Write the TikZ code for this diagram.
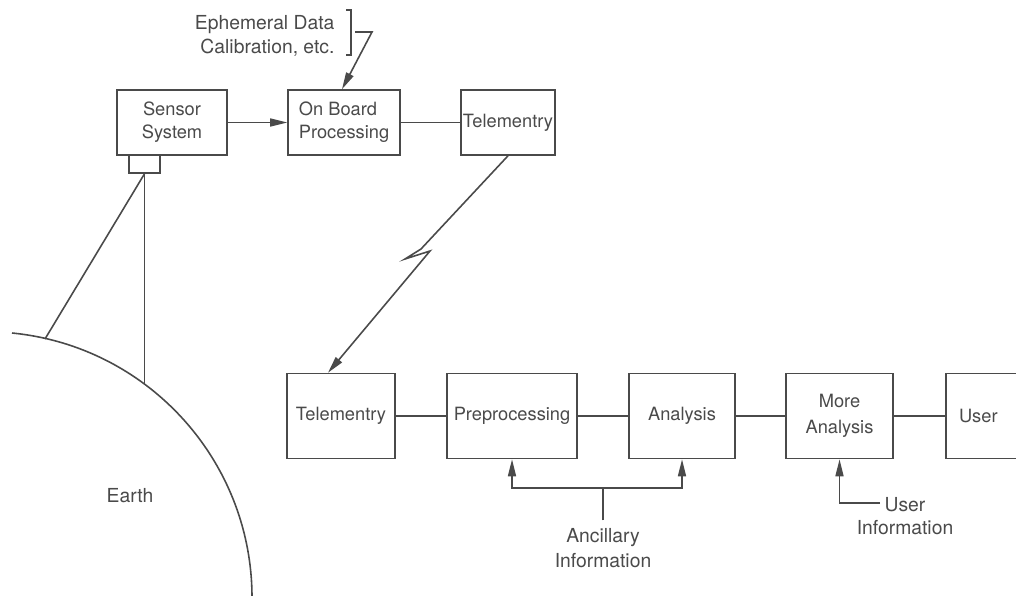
\documentclass[tikz,border=0pt]{standalone}
\usepackage{fontspec}
\setmainfont{TeX Gyre Heros}
\usetikzlibrary{arrows.meta, positioning, calc}
\definecolor{ink}{HTML}{4A4A4A}

\begin{document}
\begin{tikzpicture}[x=0.02cm, y=-0.02cm, color=ink, line width=0.9pt,
    box/.style={draw, minimum height=1.3cm, inner xsep=1pt, inner ysep=2pt,
        font=\fontsize{10.4}{13}\selectfont, align=center},
    tallbox/.style={box, minimum height=1.7cm},
    label/.style={font=\fontsize{11}{13.5}\selectfont, align=center, inner sep=1pt},
    arr/.style={-{Triangle[length=3.4mm,width=1.6mm]}}]
\useasboundingbox (0,0) rectangle (1016,595);

% spacecraft side
\node[box, minimum width=2.2cm] (sensor) at (172,122.5) {Sensor\\System};
\node[box, minimum width=0.62cm, minimum height=0.36cm, inner sep=0pt] (aperture) at (144.5,164) {};
\node[box, minimum width=2.24cm, align=left] (onboard) at (344,122.5) {On Board\\Processing};
\node[box, minimum width=1.8cm] (telup) at (508,122.5) {Telementry};

\node[label, align=right, anchor=east] (ephem) at (337,36) {Ephemeral Data\\[0.5pt]Calibration, etc.};
\coordinate (brtop) at (351,10);
\coordinate (brbot) at (351,55);
\coordinate (brmid) at (355,32);
\coordinate (brbend) at (372,32);
\draw (brtop) ++(-5,0) -- (brtop) -- (brbot) -- ++(-5,0);
\draw[arr] (brmid) -- (brbend) -- ([xshift=-0.04cm]onboard.north);

\draw[arr] (sensor) -- (onboard);
\draw (onboard) -- (telup);

% Earth and field of view
\draw (12,333) arc[start angle=84.4, end angle=-2, radius=5.32cm];
\node[label] (earth) at (130,496) {Earth};
\coordinate (limbA) at (45,339);
\coordinate (limbB) at (144.5,384);
\draw (aperture.south) -- (limbA);
\draw (aperture.south) -- (limbB);

% ground side
\node[tallbox, minimum width=2.16cm] (teldown) at (341,416) {Telementry};
\node[tallbox, minimum width=2.6cm] (prep) at (512,416) {Preprocessing};
\node[tallbox, minimum width=2.12cm] (analysis) at (682,416) {Analysis};
\node[tallbox, minimum width=2.14cm] (more) at (839.5,416) {More\\[2pt]Analysis};
\node[tallbox, text width=1.62cm, inner xsep=0.26cm, align=left] (user) at (999.5,416) {User};

% downlink
\coordinate (boltA) at (421,249);
\coordinate (boltB) at (405,259);
\coordinate (boltC) at (430,251);
\draw[arr] (telup.south) -- (boltA) -- (boltB) -- (boltC) -- ([xshift=-0.26cm]teldown.north);

\draw (teldown) -- (prep);
\draw (prep) -- (analysis);
\draw (analysis) -- (more);
\draw (more) -- (user);

% side inputs
\node[label, inner sep=4pt] (ancil) at (603,548) {Ancillary\\[1pt]Information};
\coordinate (ancjoin) at (603,488);
\draw (ancil) -- (ancjoin);
\draw[arr] (ancjoin) -| (prep.south);
\draw[arr] (ancjoin) -| (analysis.south);

\node[label] (uinfo) at (905,516) {User\\Information};
\coordinate (uinfoend) at (880,503);
\draw[arr] (uinfoend) -| (more.south);
\end{tikzpicture}
\end{document}
